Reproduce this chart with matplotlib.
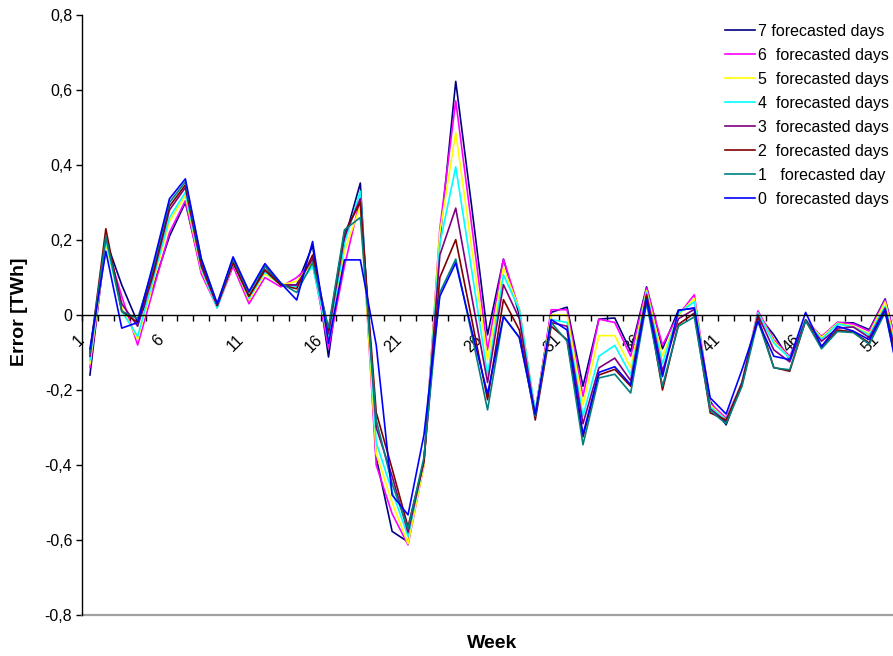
import numpy as np
import matplotlib
matplotlib.use("Agg")
import matplotlib.pyplot as plt
from matplotlib.transforms import ScaledTranslation

plt.rcParams['font.family'] = ['Liberation Sans', 'DejaVu Sans']

weeks = np.arange(1, 53)

d7 = [-0.16, 0.20, 0.08, -0.02, 0.08, 0.21, 0.30, 0.12, 0.025, 0.15,
      0.04, 0.13, 0.08, 0.08, 0.185, -0.112, 0.20, 0.352, -0.38, -0.577,
      -0.605, -0.39, 0.20, 0.623, 0.29, -0.053, 0.149, 0.0, -0.26, 0.007,
      0.021, -0.19, -0.011, -0.008, -0.097, 0.075, -0.09, 0.013, 0.018, -0.23,
      -0.293, -0.18, 0.0, -0.053, -0.119, -0.013, -0.06, -0.02, -0.021, -0.039,
      0.043, -0.13]
d6 = [-0.14, 0.19, 0.05, -0.08, 0.07, 0.22, 0.305, 0.11, 0.02, 0.13,
      0.03, 0.10, 0.075, 0.10, 0.14, -0.088, 0.13, 0.31, -0.40, -0.53,
      -0.613, -0.40, 0.23, 0.571, 0.24, -0.093, 0.149, 0.014, -0.26, 0.014,
      0.014, -0.217, -0.011, -0.02, -0.11, 0.072, -0.08, 0.0, 0.054, -0.235,
      -0.275, -0.18, 0.011, -0.066, -0.11, -0.013, -0.057, -0.02, -0.024, -0.043,
      0.04, -0.12]
d5 = [-0.13, 0.19, 0.02, -0.065, 0.09, 0.25, 0.318, 0.12, 0.02, 0.14,
      0.04, 0.11, 0.08, 0.09, 0.14, -0.07, 0.17, 0.29, -0.37, -0.50,
      -0.61, -0.40, 0.22, 0.487, 0.18, -0.12, 0.126, 0.016, -0.26, 0.0,
      0.0, -0.24, -0.055, -0.055, -0.14, 0.065, -0.11, 0.0, 0.044, -0.24,
      -0.28, -0.18, 0.005, -0.07, -0.115, -0.013, -0.06, -0.022, -0.03, -0.05,
      0.035, -0.14]
d4 = [-0.12, 0.20, 0.01, -0.057, 0.10, 0.26, 0.327, 0.125, 0.018, 0.14,
      0.045, 0.115, 0.08, 0.075, 0.13, -0.06, 0.19, 0.33, -0.34, -0.47,
      -0.59, -0.39, 0.19, 0.395, 0.12, -0.16, 0.107, 0.014, -0.26, -0.012,
      -0.02, -0.27, -0.11, -0.081, -0.16, 0.06, -0.13, 0.005, 0.035, -0.245,
      -0.28, -0.18, 0.005, -0.075, -0.115, -0.013, -0.065, -0.024, -0.032, -0.053,
      0.023, -0.15]
d3 = [-0.11, 0.21, 0.03, -0.03, 0.11, 0.28, 0.34, 0.13, 0.025, 0.14,
      0.05, 0.12, 0.08, 0.08, 0.15, -0.05, 0.21, 0.31, -0.30, -0.43,
      -0.58, -0.39, 0.16, 0.285, 0.05, -0.18, 0.081, -0.01, -0.27, -0.02,
      -0.03, -0.29, -0.141, -0.115, -0.175, 0.055, -0.15, -0.01, 0.015, -0.25,
      -0.285, -0.18, 0.0, -0.093, -0.125, -0.013, -0.07, -0.035, -0.032, -0.06,
      0.018, -0.16]
d2 = [-0.10, 0.23, 0.01, -0.02, 0.12, 0.29, 0.347, 0.14, 0.025, 0.14,
      0.05, 0.12, 0.08, 0.07, 0.16, -0.04, 0.22, 0.30, -0.26, -0.41,
      -0.565, -0.39, 0.10, 0.201, -0.01, -0.226, 0.041, -0.04, -0.28, -0.03,
      -0.066, -0.325, -0.16, -0.145, -0.19, 0.05, -0.20, -0.025, 0.005, -0.261,
      -0.28, -0.185, -0.005, -0.14, -0.15, -0.015, -0.085, -0.04, -0.045, -0.075,
      0.012, -0.17]
d1 = [-0.10, 0.21, 0.01, -0.01, 0.13, 0.30, 0.355, 0.15, 0.03, 0.15,
      0.06, 0.13, 0.085, 0.06, 0.14, -0.034, 0.227, 0.26, -0.28, -0.45,
      -0.57, -0.38, 0.06, 0.149, -0.05, -0.253, -0.004, -0.06, -0.27, -0.02,
      -0.07, -0.346, -0.168, -0.158, -0.208, 0.032, -0.19, -0.03, -0.005, -0.255,
      -0.29, -0.19, -0.015, -0.141, -0.146, -0.015, -0.09, -0.044, -0.047, -0.078,
      0.007, -0.19]
d0 = [-0.09, 0.17, -0.035, -0.02, 0.14, 0.31, 0.363, 0.15, 0.03, 0.155,
      0.063, 0.137, 0.085, 0.04, 0.196, -0.075, 0.147, 0.147, -0.08, -0.48,
      -0.533, -0.32, 0.05, 0.139, -0.04, -0.21, -0.004, -0.06, -0.265, -0.012,
      -0.04, -0.319, -0.153, -0.138, -0.186, 0.04, -0.164, 0.012, 0.019, -0.221,
      -0.264, -0.146, -0.017, -0.11, -0.119, 0.007, -0.084, -0.03, -0.043, -0.066,
      0.013, -0.20]

series = [d7, d6, d5, d4, d3, d2, d1, d0]
labels = ["7 forecasted days", "6  forecasted days", "5  forecasted days",
          "4  forecasted days", "3  forecasted days", "2  forecasted days",
          "1   forecasted day", "0  forecasted days"]
colors = ["#000080", "#FF00FF", "#FFFF00", "#00FFFF",
          "#800080", "#800000", "#008080", "#0000FF"]

yticks = [-0.8, -0.6, -0.4, -0.2, 0, 0.2, 0.4, 0.6, 0.8]
ytick_labels = ["-0,8", "-0,6", "-0,4", "-0,2", "0", "0,2", "0,4", "0,6", "0,8"]

fig = plt.figure(figsize=(8.93, 6.56), dpi=100)
ax = fig.add_axes([82/893, 41/656, 827/893, 600/656])

for s, lab, c in zip(series, labels, colors):
    ax.plot(weeks, s, color=c, lw=1.2, label=lab)

ax.set_xlim(0.5, 52.5)
ax.set_ylim(-0.8, 0.8)

ax.spines['top'].set_visible(False)
ax.spines['right'].set_visible(False)
ax.spines['bottom'].set_position(('data', 0))
ax.spines['bottom'].set_linewidth(1.0)
ax.spines['left'].set_linewidth(1.0)
ax.axhline(-0.8, color='#a0a0a0', lw=1.6, clip_on=False)

ax.set_yticks(yticks)
ax.set_yticklabels(ytick_labels)
ax.tick_params(axis='y', length=4, width=1, direction='out', pad=3, labelsize=11.5)

ax.set_xticks(weeks[::5])
ax.set_xticklabels([str(w) for w in weeks[::5]])
ax.set_xticks(np.arange(0.5, 53, 1), minor=True)
ax.tick_params(axis='x', which='major', length=0, pad=16, labelsize=11.5)
ax.tick_params(axis='x', which='minor', length=4, width=1, direction='out')
offset = ScaledTranslation(-8/100, 0, fig.dpi_scale_trans)
for lbl in ax.get_xticklabels():
    lbl.set_rotation(45)
    lbl.set_ha('right')
    lbl.set_va('center')
    lbl.set_rotation_mode('anchor')
    lbl.set_transform(lbl.get_transform() + offset)

fig.text(20/893, 1 - 312/656, "Error [TWh]", rotation=90, ha='center', va='center',
         fontsize=14, fontweight='bold')
fig.text(492/893, 1 - 643/656, "Week", ha='center', va='center',
         fontsize=14, fontweight='bold')

fig.legend(loc='upper left', bbox_to_anchor=(725/893, 1 - 24/656), frameon=False,
           fontsize=11.5, handlelength=1.85, handletextpad=0.2, labelspacing=0.56,
           borderpad=0, borderaxespad=0)

fig.savefig("out.png", dpi=100)
